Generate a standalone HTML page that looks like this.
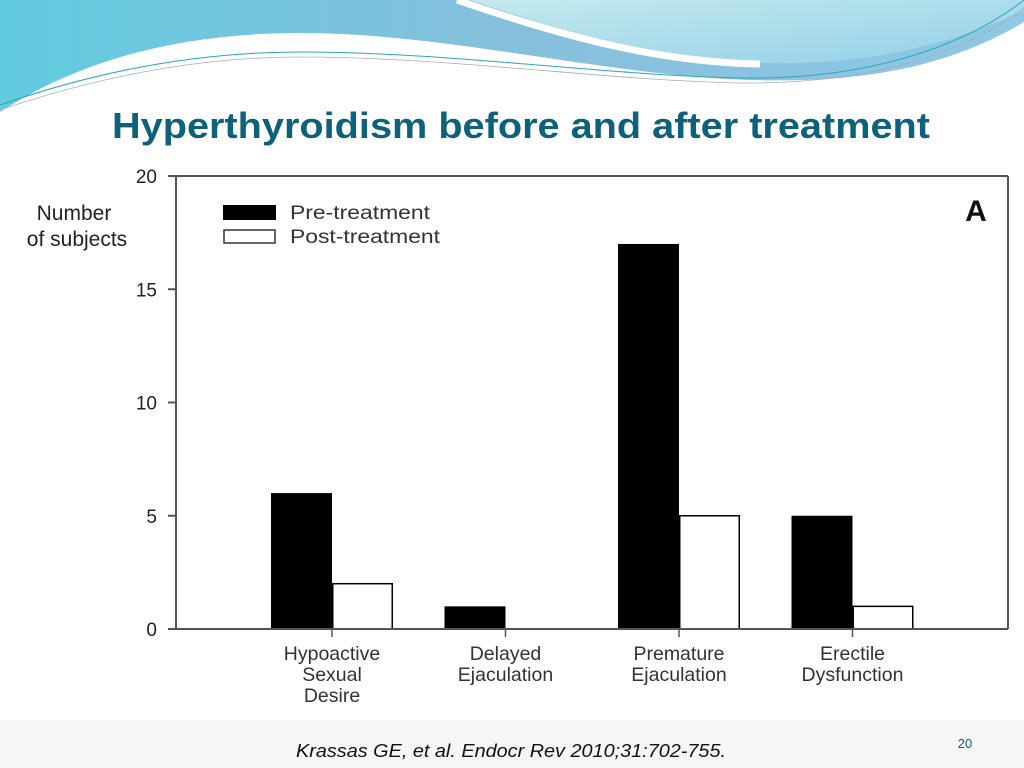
<!DOCTYPE html>
<html><head><meta charset="utf-8"><style>
html,body{margin:0;padding:0;background:#fff;}
#wrap{position:relative;width:1024px;height:768px;overflow:hidden;background:#fff;}
svg text{font-family:"Liberation Sans",sans-serif;}
</style></head><body>
<div id="wrap">
<svg width="1024" height="768">
  <defs>
    <linearGradient id="g1" x1="0" y1="0" x2="1" y2="0">
      <stop offset="0" stop-color="#62cbe0"/><stop offset="0.5" stop-color="#86bfdc"/><stop offset="1" stop-color="#8fc8e4"/>
    </linearGradient>
    <linearGradient id="g2" x1="0" y1="0" x2="1" y2="1">
      <stop offset="0" stop-color="#c4e9ee"/><stop offset="1" stop-color="#93d0e8"/>
    </linearGradient>
  </defs>
  <g>
    <path d="M0,0 L1024,0 L1024,22 C960,60 880,84 750,80 C600,75 450,33 300,33 C180,33 80,60 0,112 Z" fill="url(#g1)"/>
    <path d="M470,0 C560,30 650,60 760,63 C880,66 960,40 1024,10 L1024,0 Z" fill="url(#g2)"/>
    <path d="M457,0 C550,32 650,62 760,64" fill="none" stroke="#fff" stroke-width="7"/>
    <path d="M0,105 C100,70 200,52 300,52 C450,52 600,75 740,78 C860,80 960,50 1024,0" fill="none" stroke="#2aa7b8" stroke-width="1"/>
    <path d="M0,110 C100,76 200,57 300,57 C450,57 600,80 740,83 C860,84 960,58 1024,8" fill="none" stroke="#aab" stroke-width="0.8"/>
  </g>
  <text x="112" y="138" font-size="36" font-weight="bold" fill="#0d617a" textLength="818" lengthAdjust="spacingAndGlyphs">Hyperthyroidism before and after treatment</text>
  <rect x="0" y="720" width="1024" height="48" fill="#f6f6f6"/>
  <text x="296" y="757" font-size="18" font-style="italic" fill="#111" textLength="430" lengthAdjust="spacingAndGlyphs">Krassas GE, et al. Endocr Rev 2010;31:702-755.</text>
  <text x="965" y="748" font-size="13" fill="#0d617a" text-anchor="middle" font-family="Liberation Serif">20</text>
  <g id="chart"></g>
</svg>
</div>
<script>
const categories = [["Hypoactive","Sexual","Desire"],["Delayed","Ejaculation"],["Premature","Ejaculation"],["Erectile","Dysfunction"]];
const preValues = [6, 1, 17, 5];
const postValues = [2, 0, 5, 1];
const yTicks = [0, 5, 10, 15, 20];
const seriesNames = ["Pre-treatment", "Post-treatment"];

const NS = "http://www.w3.org/2000/svg";
const g = document.getElementById('chart');
const L = 176, R = 1008, T = 176, B = 629;
const yMax = 20;
function y(v){ return B - (v / yMax) * (B - T); }
const groupW = 173.5, firstCenter = 332, barW = 61;
function xc(i){ return firstCenter + i * groupW; }
function mk(tag, attrs){ const e = document.createElementNS(NS, tag); for (const k in attrs) e.setAttribute(k, attrs[k]); g.appendChild(e); return e; }

let e;
e = mk('line', {x1:L, y1:T, x2:R, y2:T, stroke:'#555', 'stroke-width':2});
 
e = mk('line', {x1:R, y1:T, x2:R, y2:B, stroke:'#555', 'stroke-width':2});
 
e = mk('line', {x1:L, y1:T, x2:L, y2:B, stroke:'#555', 'stroke-width':2});
 

yTicks.forEach(t => {
  const yy = y(t);
  let tk = mk('line', {x1:L-8, y1:yy, x2:L, y2:yy, stroke:'#555', 'stroke-width':2});
   
  let tl = mk('text', {x:157, y:yy+7, 'font-size':19, 'text-anchor':'end', fill:'#222'});
  tl.textContent = t;
   
});

categories.forEach((c, i) => {
  const cx = xc(i);
  if (preValues[i] > 0) {
    let b = mk('rect', {x:cx-barW, y:y(preValues[i]), width:barW, height:B-y(preValues[i]), fill:'#000'});
     
  }
  if (postValues[i] > 0) {
    let b = mk('rect', {x:cx+0.75, y:y(postValues[i]), width:barW-1.5, height:B-y(postValues[i]), fill:'#fff', stroke:'#000', 'stroke-width':1.5});
     
  }
  let tk = mk('line', {x1:cx, y1:B, x2:cx, y2:B+8, stroke:'#555', 'stroke-width':1.5});
   
  c.forEach((ln, j) => {
    let tl = mk('text', {x:cx, y:660+j*21, 'font-size':19.5, 'text-anchor':'middle', fill:'#333'});
    tl.textContent = ln;
     
  });
});
e = mk('line', {x1:L, y1:B, x2:R, y2:B, stroke:'#555', 'stroke-width':2});
 

e = mk('text', {x:74, y:220, 'font-size':21, 'text-anchor':'middle', fill:'#222'}); e.textContent = 'Number';
 
e = mk('text', {x:77, y:246, 'font-size':21, 'text-anchor':'middle', fill:'#222'}); e.textContent = 'of subjects';
 

e = mk('rect', {x:223, y:205, width:53, height:15, fill:'#000'});
 
e = mk('text', {x:290, y:219, 'font-size':19, fill:'#333', textLength:140, lengthAdjust:'spacingAndGlyphs'}); e.textContent = seriesNames[0];
 
e = mk('rect', {x:224, y:230, width:51, height:13, fill:'#fff', stroke:'#333', 'stroke-width':1.5});
 
e = mk('text', {x:290, y:243, 'font-size':19, fill:'#333', textLength:150, lengthAdjust:'spacingAndGlyphs'}); e.textContent = seriesNames[1];
 

e = mk('text', {x:976, y:221, 'font-size':30, 'font-weight':'bold', 'text-anchor':'middle', fill:'#111', 'font-family':'Liberation Serif'}); e.textContent = 'A';
 
</script>
</body></html>
